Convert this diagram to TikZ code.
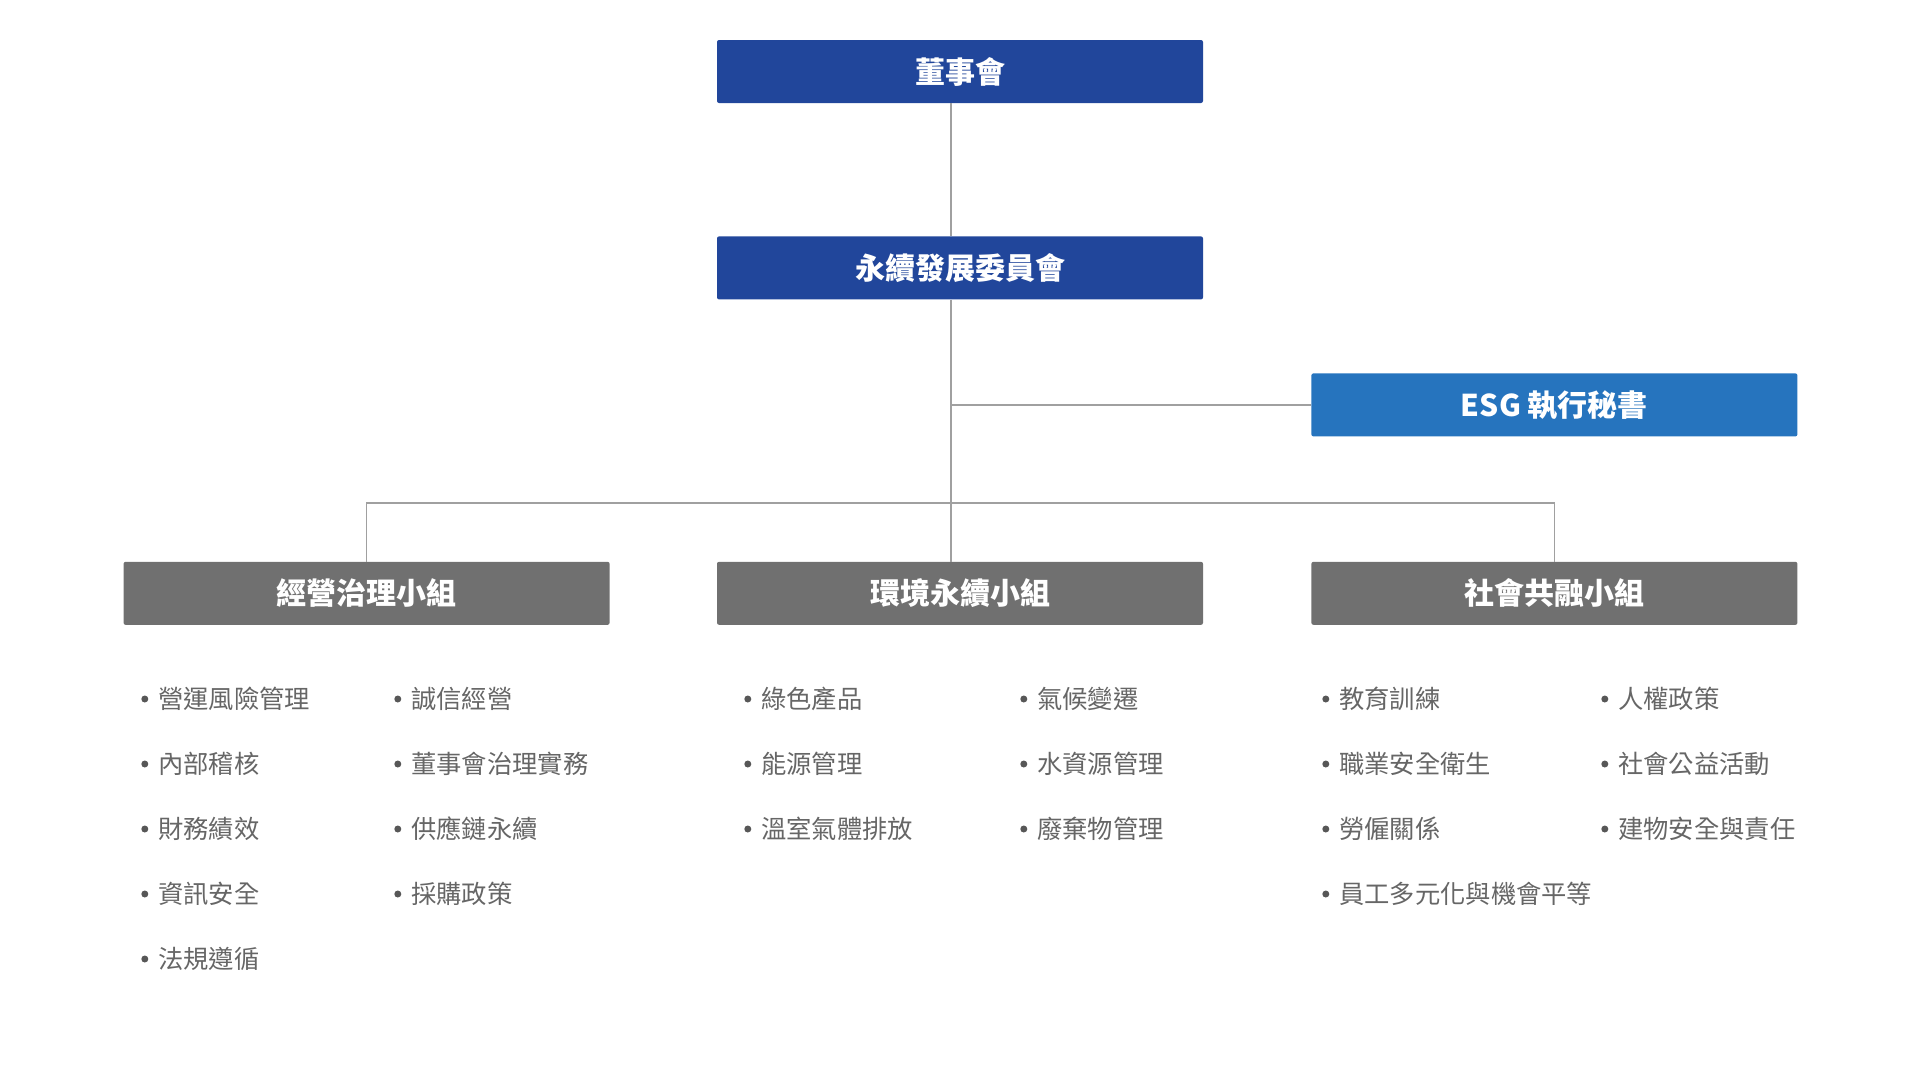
\documentclass[tikz,border=0pt]{standalone}
\usepackage{fontspec}
\setmainfont{Noto Sans CJK TC}
\usetikzlibrary{positioning}
\definecolor{boardblue}{RGB}{33,70,155}
\definecolor{esgblue}{RGB}{38,116,190}
\definecolor{grpgray}{RGB}{112,112,112}
\definecolor{linegray}{RGB}{160,160,160}
\definecolor{itemgray}{RGB}{102,102,102}
\tikzset{
  box/.style={rectangle,rounded corners=2pt,minimum width=486pt,minimum height=63pt,inner sep=0pt,text=white,font=\fontsize{30}{36}\selectfont\bfseries},
  bluebox/.style={box,fill=boardblue},
  esgbox/.style={box,fill=esgblue},
  grpbox/.style={box,fill=grpgray},
  conn/.style={draw=linegray,line width=1.4pt},
  item/.style={anchor=west,inner sep=0pt,xshift=-2pt,text=itemgray,font=\fontsize{25.3}{30}\selectfont,
    label={[circle,fill=itemgray!85!black,inner sep=0pt,minimum size=7pt,label distance=9.5pt]left:{}}}
}
\begin{document}
\begin{tikzpicture}[x=1pt,y=-1pt]
  \useasboundingbox (0,0) rectangle (1920,1080);

  % Board and committee
  \node[bluebox] (board) at (960,71.5) {董事會};
  \node[bluebox, below=133pt of board] (committee) {永續發展委員會};

  % Three working groups + ESG secretary
  \node[grpbox, below=262pt of committee] (env) {環境永續小組};
  \node[grpbox, left=107pt of env] (gov) {經營治理小組};
  \node[grpbox, right=108pt of env] (soc) {社會共融小組};
  \node[esgbox, above=125pt of soc] (esg) {ESG 執行秘書};

  \coordinate (trunk) at ([xshift=-9pt]board.south);
  \coordinate (bus) at (trunk |- 0,503);

  \draw[conn] (trunk) -- (trunk |- committee.north);
  \draw[conn] (trunk |- committee.south) -- (trunk |- env.north);
  \draw[conn] (trunk |- esg.west) -- (esg.west);
  \draw[conn] (gov.north) |- (bus) -| (soc.north);

  % Governance items
  \node[item] (g1) at (160,699) {營運風險管理};
  \node[item] (g2) at (160,764) {內部稽核};
  \node[item] (g3) at (160,829) {財務績效};
  \node[item] (g4) at (160,894) {資訊安全};
  \node[item] (g5) at (160,959) {法規遵循};
  \node[item] (g6) at (413,699) {誠信經營};
  \node[item] (g7) at (413,764) {董事會治理實務};
  \node[item] (g8) at (413,829) {供應鏈永續};
  \node[item] (g9) at (413,894) {採購政策};

  % Environment items
  \node[item] (e1) at (763,699) {綠色產品};
  \node[item] (e2) at (763,764) {能源管理};
  \node[item] (e3) at (763,829) {溫室氣體排放};
  \node[item] (e4) at (1039,699) {氣候變遷};
  \node[item] (e5) at (1039,764) {水資源管理};
  \node[item] (e6) at (1039,829) {廢棄物管理};

  % Social items
  \node[item] (s1) at (1341,699) {教育訓練};
  \node[item] (s2) at (1341,764) {職業安全衛生};
  \node[item] (s3) at (1341,829) {勞僱關係};
  \node[item] (s4) at (1341,894) {員工多元化與機會平等};
  \node[item] (s5) at (1620,699) {人權政策};
  \node[item] (s6) at (1620,764) {社會公益活動};
  \node[item] (s7) at (1620,829) {建物安全與責任};
\end{tikzpicture}
\end{document}
